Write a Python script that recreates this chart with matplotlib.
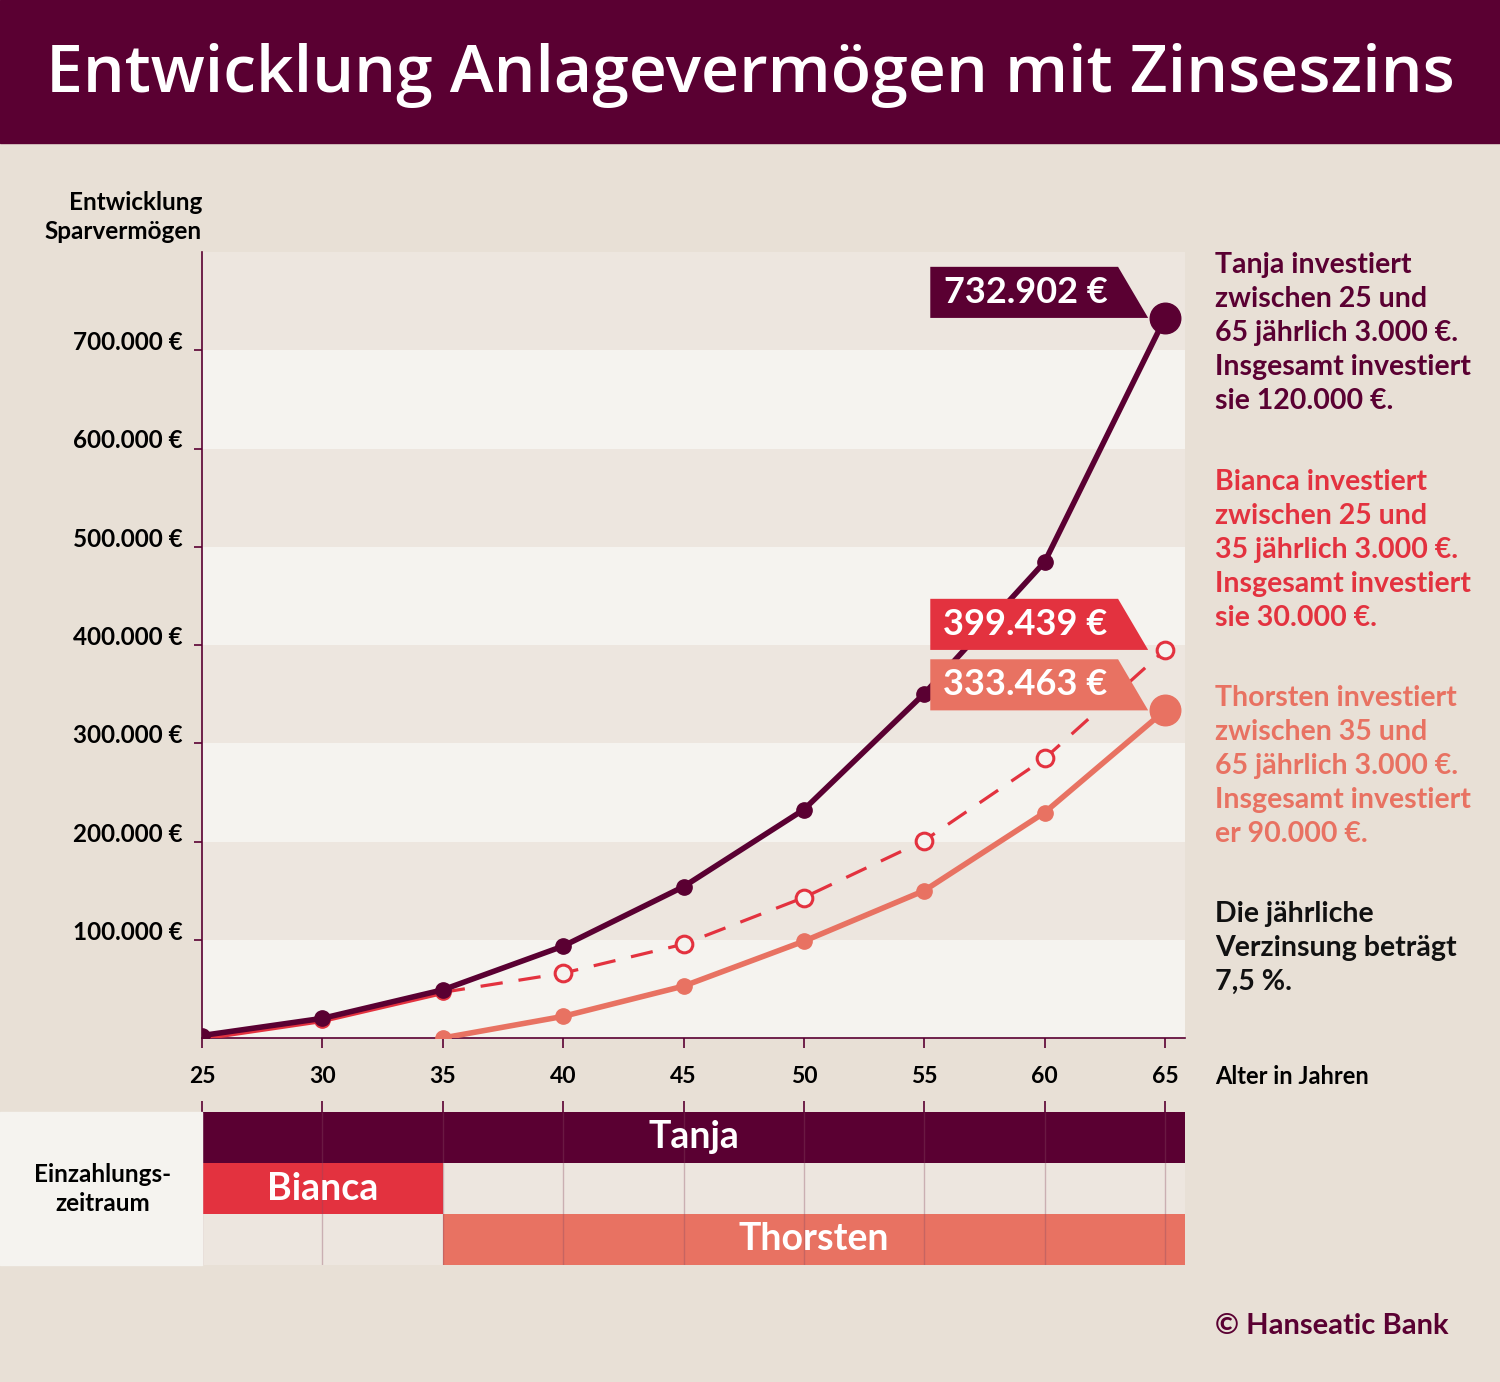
import matplotlib
matplotlib.use("Agg")
import matplotlib.pyplot as plt
from matplotlib.patches import Polygon, Rectangle

plt.rcParams['font.family'] = ['Lato', 'DejaVu Sans']

# data
ages = [25, 30, 35, 40, 45, 50, 55, 60, 65]
tanja = [2500, 20000, 49000, 93500, 154000, 232500, 350500, 484500, 732902]
bianca = [0, 18000, 46500, 66000, 95500, 143000, 201000, 284500, 395000]
thorsten_ages = [35, 40, 45, 50, 55, 60, 65]
thorsten = [0, 22000, 52800, 98500, 150000, 229500, 333463]

end_labels = ['732.902 €', '399.439 €', '333.463 €']
yticks = [100000, 200000, 300000, 400000, 500000, 600000, 700000]
ytick_labels = ['100.000 €', '200.000 €', '300.000 €', '400.000 €',
                '500.000 €', '600.000 €', '700.000 €']

# payment periods (start, end) per person
names = ['Tanja', 'Bianca', 'Thorsten']
periods = [(25, 65.83), (25, 35), (35, 65.83)]

#colours
PURPLE = '#5a0032'
RED = '#e3323f'
SALMON = '#e87262'
BG = '#e8e0d6'
LIGHT = '#f5f3ef'
MID = '#ede6df'

W, H = 1500, 1382
fig = plt.figure(figsize=(W / 100, H / 100), dpi=100, facecolor=BG)

def px_axes(l, t, r, b):
    return fig.add_axes([l / W, 1 - b / H, (r - l) / W, (b - t) / H])

# title banner
fig.patches.append(Rectangle((0, 1 - 143 / H), 1, 143 / H, transform=fig.transFigure,
                             color=PURPLE, zorder=0))
fig.text(0.5, 1 - 76 / H, 'Entwicklung Anlagevermögen mit Zinseszins', color='white',
         fontsize=47.6, fontweight='semibold', family=['Open Sans', 'DejaVu Sans'],
         ha='center', va='center')

# main chart
ax = px_axes(202, 252, 1185, 1038)
ax.set_xlim(25, 65.83)
ax.set_ylim(0, 800000)
for i in range(8):
    ax.axhspan(i * 100000, (i + 1) * 100000, color=LIGHT if i % 2 == 0 else MID, lw=0, zorder=0)

for s in ['top', 'right']:
    ax.spines[s].set_visible(False)
for s in ['left', 'bottom']:
    ax.spines[s].set_color(PURPLE)
    ax.spines[s].set_linewidth(1.2)

ax.set_xticks(ages)
ax.set_xticklabels([str(a) for a in ages], fontsize=16.5, fontweight='bold')
ax.set_yticks(yticks)
ax.set_yticklabels(ytick_labels, fontsize=17.5, fontweight='bold', va='baseline')
ax.tick_params(axis='x', length=7, width=1.2, color=PURPLE, pad=13)
ax.tick_params(axis='y', length=6, width=1.2, color=PURPLE, pad=8)

# Tanja
ax.plot(ages, tanja, color=PURPLE, lw=4, marker='o', ms=11, zorder=4, solid_capstyle='round')
ax.plot(ages[-1], tanja[-1], 'o', color=PURPLE, ms=22, zorder=6, clip_on=False)
# Bianca: solid while paying, dashed afterwards
ax.plot(ages[:3], bianca[:3], color=RED, lw=4, marker='o', ms=11, zorder=3)
ax.plot(ages[2:], bianca[2:], color=RED, lw=2.3, dashes=(7, 5), zorder=3)
ax.plot(ages[3:], bianca[3:], 'o', ms=12, mfc=LIGHT, mec=RED, mew=2.2, zorder=5, clip_on=False)
# Thorsten
ax.plot(thorsten_ages, thorsten, color=SALMON, lw=4, marker='o', ms=11, zorder=4)
ax.plot(thorsten_ages[-1], thorsten[-1], 'o', color=SALMON, ms=22, zorder=6, clip_on=False)

# value flags
flag_vals = [tanja[-1], bianca[-1], thorsten[-1]]
flag_cols = [PURPLE, RED, SALMON]
for val, lab, col in zip(flag_vals, end_labels, flag_cols):
    h = 52000
    poly = Polygon([(55.25, val), (55.25, val + h), (63.05, val + h), (64.3, val)],
                   closed=True, color=col, lw=0, zorder=7)
    ax.add_patch(poly)
    ax.text(59.2, val + h / 2, lab, color='white', fontsize=26, fontweight='bold',
            ha='center', va='center', zorder=8)

fig.text(202 / W, 1 - 217 / H, 'Entwicklung\nSparvermögen', ha='right', va='center',
         fontsize=17.5, fontweight='bold', linespacing=1.3)
fig.text(1215 / W, 1 - 1077 / H, 'Alter in Jahren', ha='left', va='center',
         fontsize=17, fontweight='bold')

# right hand notes
notes = [
    ('Tanja investiert\nzwischen 25 und\n65 jährlich 3.000 €.\nInsgesamt investiert\nsie 120.000 €.', PURPLE, 333),
    ('Bianca investiert\nzwischen 25 und\n35 jährlich 3.000 €.\nInsgesamt investiert\nsie 30.000 €.', RED, 550),
    ('Thorsten investiert\nzwischen 35 und\n65 jährlich 3.000 €.\nInsgesamt investiert\ner 90.000 €.', SALMON, 766),
    ('Die jährliche\nVerzinsung beträgt\n7,5 %.', '#111111', 948),
]
for txt, col, yc in notes:
    fig.text(1215 / W, 1 - yc / H, txt, color=col, ha='left', va='center',
             fontsize=20.5, fontweight='bold', linespacing=1.37)

fig.text(1215 / W, 1 - 1326 / H, '© Hanseatic Bank', color=PURPLE, ha='left', va='center',
         fontsize=21, fontweight='bold')

# payment period bars
fig.patches.append(Rectangle((0, 1 - 1265 / H), 202 / W, 153 / H, transform=fig.transFigure,
                             color=LIGHT, zorder=0))
fig.text(103 / W, 1 - 1189 / H, 'Einzahlungs-\nzeitraum', ha='center', va='center',
         fontsize=17.5, fontweight='bold', linespacing=1.3)

bx = px_axes(202, 1112, 1185, 1265)
bx.set_xlim(25, 65.83)
bx.set_ylim(2.5, -0.5)
bx.set_facecolor(MID)
for s in bx.spines.values():
    s.set_visible(False)
bar_cols = [PURPLE, RED, SALMON]
for i, (name, (a, b), col) in enumerate(zip(names, periods, bar_cols)):
    bx.barh(i, b - a, left=a, height=1.0, color=col, lw=0, zorder=1)
    bx.text((a + b) / 2, i, name, color='white', fontsize=27, fontweight='bold',
            ha='center', va='center', zorder=3)
bx.vlines(ages, -0.5, 2.5, color='#8a4a60', alpha=0.35, lw=1, zorder=2)
bx.set_yticks([])
bx.set_xticks(ages)
bx.set_xticklabels([])
bx.xaxis.set_ticks_position('top')
bx.tick_params(axis='x', length=8, width=1.2, color=PURPLE)

fig.savefig('out.png', dpi=100, facecolor=BG)
